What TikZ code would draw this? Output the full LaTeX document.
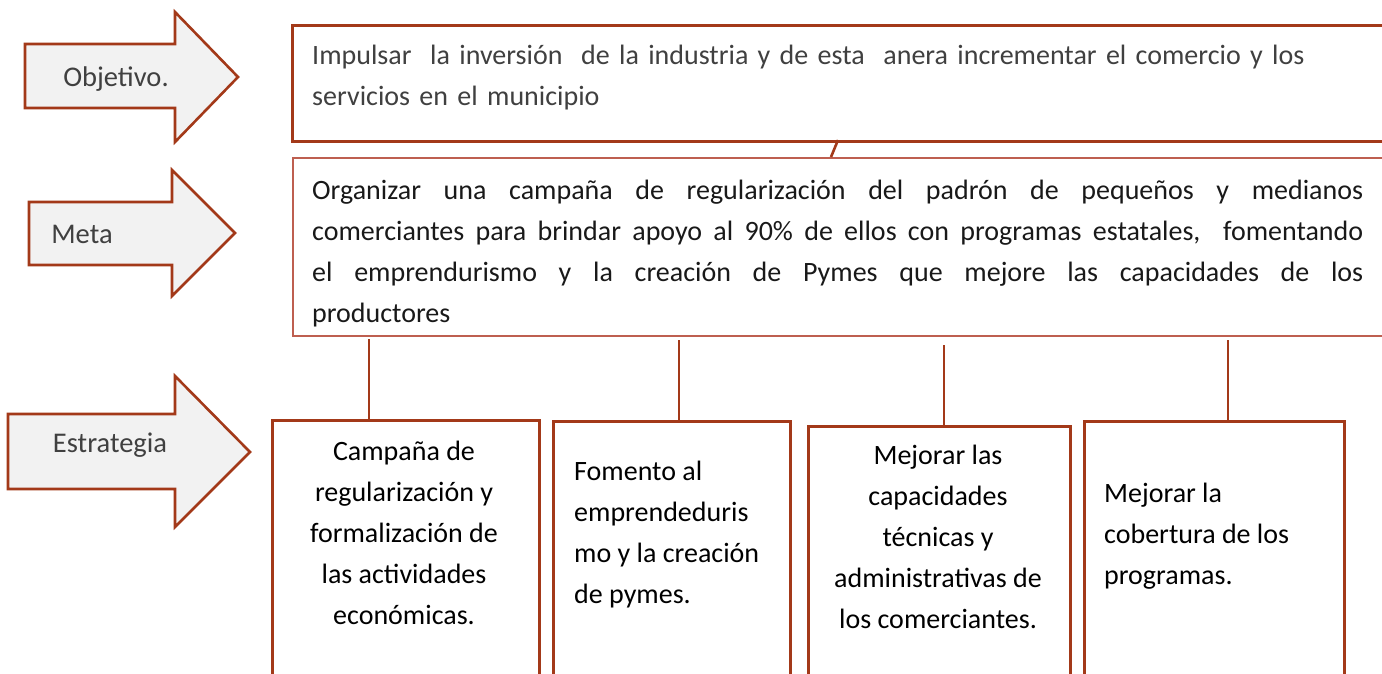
\documentclass[tikz,border=0pt]{standalone}
\usepackage{fontspec}
\setmainfont{Carlito}
\definecolor{rust}{RGB}{163,57,25}
\definecolor{lightrust}{RGB}{190,95,80}
\definecolor{arrowfill}{RGB}{242,242,242}
\definecolor{graytext}{RGB}{64,64,64}
\tikzset{
  bigarrow/.style={draw=rust, line width=2.6pt, fill=arrowfill, line join=miter},
  arrowlabel/.style={text=graytext, inner sep=0pt, anchor=base, font=\fontsize{28.5}{41}\selectfont},
  toprect/.style={draw=rust, line width=3pt, anchor=north west, inner sep=0pt},
  metarect/.style={draw=lightrust, line width=1.6pt, anchor=north west, inner sep=0pt},
  stratbox/.style={draw=rust, line width=2.6pt, anchor=north west, inner sep=0pt, minimum height=300pt},
  bodytext/.style={inner sep=0pt, font=\fontsize{28}{41}\selectfont},
  link/.style={draw=rust, line width=2.6pt},
}
\begin{document}
\begin{tikzpicture}[x=1pt,y=1pt]
\clip (0,0) rectangle (1382,-673);
\fill[white] (0,0) rectangle (1382,-673);
% arrows
\draw[bigarrow] (25,-44)--(175,-44)--(175,-12)--(238,-77)--(175,-142)--(175,-108)--(25,-108)--cycle;
\node[arrowlabel] (lobj) at (116,-86) {Objetivo.};
\draw[bigarrow] (29,-202)--(172,-202)--(172,-170)--(235,-233)--(172,-296)--(172,-265)--(29,-265)--cycle;
\node[arrowlabel] (lmeta) at (82,-243) {Meta};
\draw[bigarrow] (8,-414)--(175,-414)--(175,-376)--(250,-452)--(175,-527)--(175,-489)--(8,-489)--cycle;
\node[arrowlabel] (lest) at (110,-452) {Estrategia};
% objective box
\node[toprect, minimum width=1120pt, minimum height=116pt] (obj) at (291,-24) {};
\node[bodytext, text=graytext, anchor=north west, text width=1060pt, align=left] (objt) at (312,-45)
  {Impulsar\ \ la inversión\ \ de la industria y de esta\ \ anera incrementar el comercio y los\\servicios en el municipio};
% meta box
\node[metarect, minimum width=1120pt, minimum height=178pt] (meta) at (292,-157) {};
\node[bodytext, text=black!90, anchor=north west, text width=1051pt, align=justify] (metat) at (312,-180)
  {Organizar una campaña de regularización del padrón de pequeños y medianos\linebreak
   comerciantes para brindar apoyo al 90\% de ellos con programas estatales,\ \ fomentando\linebreak
   el emprendurismo y la creación de Pymes que mejore las capacidades de los\linebreak
   productores};
\coordinate (k1) at (838,-140);
\coordinate (k2) at (831,-157);
\draw[link] (k1) -- (k2);
% strategy boxes
\node[stratbox, minimum width=267pt] (s1) at (271,-419) {};
\node[stratbox, minimum width=237pt] (s2) at (552,-420) {};
\node[stratbox, minimum width=262pt] (s3) at (807,-425) {};
\node[stratbox, minimum width=260pt] (s4) at (1083,-420) {};
% connectors
\coordinate (c1) at (369,-339);
\coordinate (c2) at (679,-340);
\coordinate (c3) at (944,-345);
\coordinate (c4) at (1228,-340);
\draw[link] (c1) -- (c1 |- s1.north);
\draw[link] (c2) -- (c2 |- s2.north);
\draw[link] (c3) -- (c3 |- s3.north);
\draw[link] (c4) -- (c4 |- s4.north);
% strategy texts
\node[bodytext, anchor=north, align=center] (t1) at (404,-441)
  {Campaña de\\regularización y\\formalización de\\las actividades\\económicas.};
\node[bodytext, anchor=north west, align=left] (t2) at (574,-461)
  {Fomento al\\emprendeduris\\mo y la creación\\de pymes.};
\node[bodytext, anchor=north, align=center] (t3) at (938,-445)
  {Mejorar las\\capacidades\\técnicas y\\administrativas de\\los comerciantes.};
\node[bodytext, anchor=north west, align=left] (t4) at (1104,-483)
  {Mejorar la\\cobertura de los\\programas.};
\end{tikzpicture}
\end{document}
